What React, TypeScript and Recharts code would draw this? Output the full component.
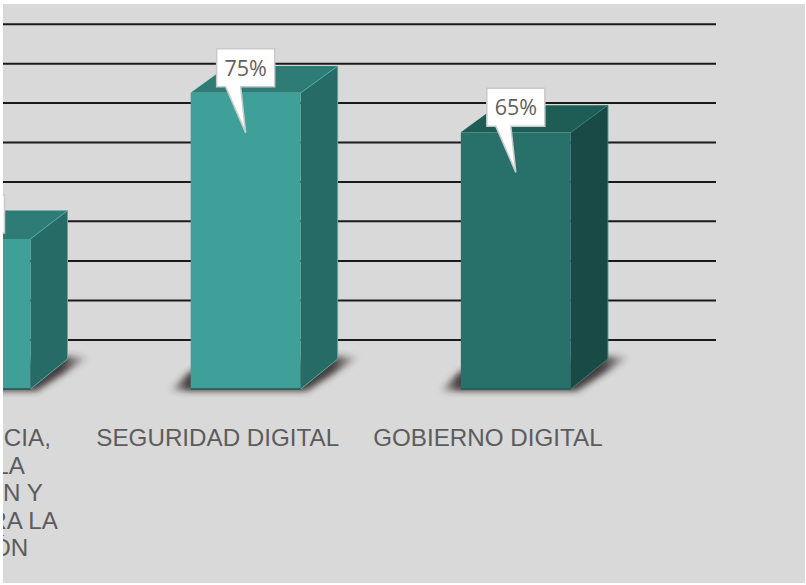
import React from 'react';
import { BarChart, Bar, XAxis, YAxis, CartesianGrid, LabelList } from 'recharts';

const categories = [
  'TRANSPARENCIA, ACCESO A LA INFORMACIÓN Y LUCHA CONTRA LA CORRUPCIÓN',
  'SEGURIDAD DIGITAL',
  'GOBIERNO DIGITAL',
];
const tickLines = [
  ['TRANSPARENCIA,', 'ACCESO A LA', 'INFORMACIÓN Y', 'LUCHA CONTRA LA', 'CORRUPCIÓN'],
  ['SEGURIDAD DIGITAL'],
  ['GOBIERNO DIGITAL'],
];
const tickShift = [-30, -28, -28];
const values = [38, 75, 65];
const gridValues = [12.4, 22.4, 32.4, 42.5, 52.4, 62.4, 72.4, 82.4, 92.4];

const frontColors = ['#3f9f99', '#3f9f99', '#28716a'];
const sideColors = ['#276b66', '#276b66', '#194a45'];
const topColors = ['#2f7b75', '#2f7b75', '#1e5c56'];
const edgeColors = ['#4cb0a9', '#4cb0a9', '#2f7f77'];

const data = categories.map((name, i) => ({ name, value: values[i] }));

const DX = 37;

const Bar3D = (props: any) => {
  const { x, y, width, height, index } = props;
  const base = y + height;
  const right = x + width;
  const dyBottom = 30;
  const dyTop = 30 - height * 0.011;
  const edge = edgeColors[index];
  return (
    <g>
      <polygon
        points={`${x - 22},${base + 2} ${x},${base - 18} ${right + DX},${base - 33} ${right + DX + 22},${base - 32} ${right + 6},${base + 2}`}
        fill="url(#barShadow)"
        filter="url(#shadowBlur)"
      />
      <polygon
        points={`${x},${y} ${x + DX},${y - dyTop} ${right + DX},${y - dyTop} ${right},${y}`}
        fill={topColors[index]}
      />
      <polygon
        points={`${right},${y} ${right + DX},${y - dyTop} ${right + DX},${base - dyBottom} ${right},${base}`}
        fill={sideColors[index]}
      />
      <rect x={x} y={y} width={width} height={height} fill={frontColors[index]} />
      <path
        d={`M${right},${y} L${right + DX},${y - dyTop} L${right + DX},${base - dyBottom} L${right},${base}`}
        fill="none"
        stroke={edge}
        strokeWidth={1}
      />
      <line x1={x} y1={base} x2={right} y2={base} stroke="#1f5a55" strokeWidth={1.5} />
    </g>
  );
};

const Callout = (props: any) => {
  const { x, y, width, value } = props;
  const cx = x + width / 2;
  const left = cx - 29;
  const boxRight = cx + 29;
  const top = y - 44;
  const bottom = y - 6;
  const d = `M${left},${top} H${boxRight} V${bottom} H${cx - 5} L${cx},${y + 40} L${cx - 20},${bottom} H${left} Z`;
  return (
    <g>
      <path d={d} fill="#ffffff" stroke="#c9c9c9" strokeWidth={1.5} strokeLinejoin="miter" />
      <text
        x={cx}
        y={top + 27}
        textAnchor="middle"
        fontFamily="'Open Sans', sans-serif"
        fontSize={21.5}
        fill="#606060"
      >
        {value}%
      </text>
    </g>
  );
};

const CategoryTick = (props: any) => {
  const { x, y, index } = props;
  const tx = x + tickShift[index];
  return (
    <text
      x={tx}
      y={y}
      textAnchor="middle"
      fontFamily="'Liberation Sans', Arial, sans-serif"
      fontSize={24.2}
      fill="#5c5c5c"
    >
      {tickLines[index].map((line, i) => (
        <tspan key={line} x={tx} dy={i === 0 ? 49 : 27.5}>
          {line}
        </tspan>
      ))}
    </text>
  );
};

export default function App() {
  return (
    <div style={{ position: 'fixed', left: 0, top: 0, width: 806, height: 585, background: '#ffffff' }}>
      <div
        style={{
          position: 'absolute',
          left: 3,
          top: 4,
          width: 802,
          height: 579,
          background: '#d9d9d9',
          overflow: 'hidden',
        }}
      >
        <div style={{ position: 'absolute', left: -173, top: 0 }}>
          <BarChart
            width={900}
            height={579}
            data={data}
            barSize={110}
            margin={{ top: 0, right: 14, bottom: 0, left: 10.5 }}
          >
            <defs>
              <linearGradient id="barShadow" x1="0" y1="0" x2="1" y2="0">
                <stop offset="0" stopColor="#362d2d" stopOpacity={0} />
                <stop offset="0.1" stopColor="#362d2d" stopOpacity={0.9} />
                <stop offset="0.86" stopColor="#362d2d" stopOpacity={0.9} />
                <stop offset="1" stopColor="#362d2d" stopOpacity={0} />
              </linearGradient>
              <filter id="shadowBlur" x="-20%" y="-50%" width="140%" height="200%">
                <feGaussianBlur stdDeviation="3" />
              </filter>
            </defs>
            <CartesianGrid
              vertical={false}
              horizontalValues={gridValues}
              stroke="#1a1a1a"
              strokeWidth={2}
              syncWithTicks={false}
            />
            <XAxis
              dataKey="name"
              interval={0}
              height={194}
              padding={{ left: 0, right: 65 }}
              axisLine={false}
              tickLine={false}
              tick={<CategoryTick />}
            />
            <YAxis hide domain={[0, 97.5]} ticks={gridValues} />
            <Bar dataKey="value" shape={<Bar3D />} isAnimationActive={false}>
              <LabelList dataKey="value" content={<Callout />} />
            </Bar>
          </BarChart>
        </div>
      </div>
    </div>
  );
}
